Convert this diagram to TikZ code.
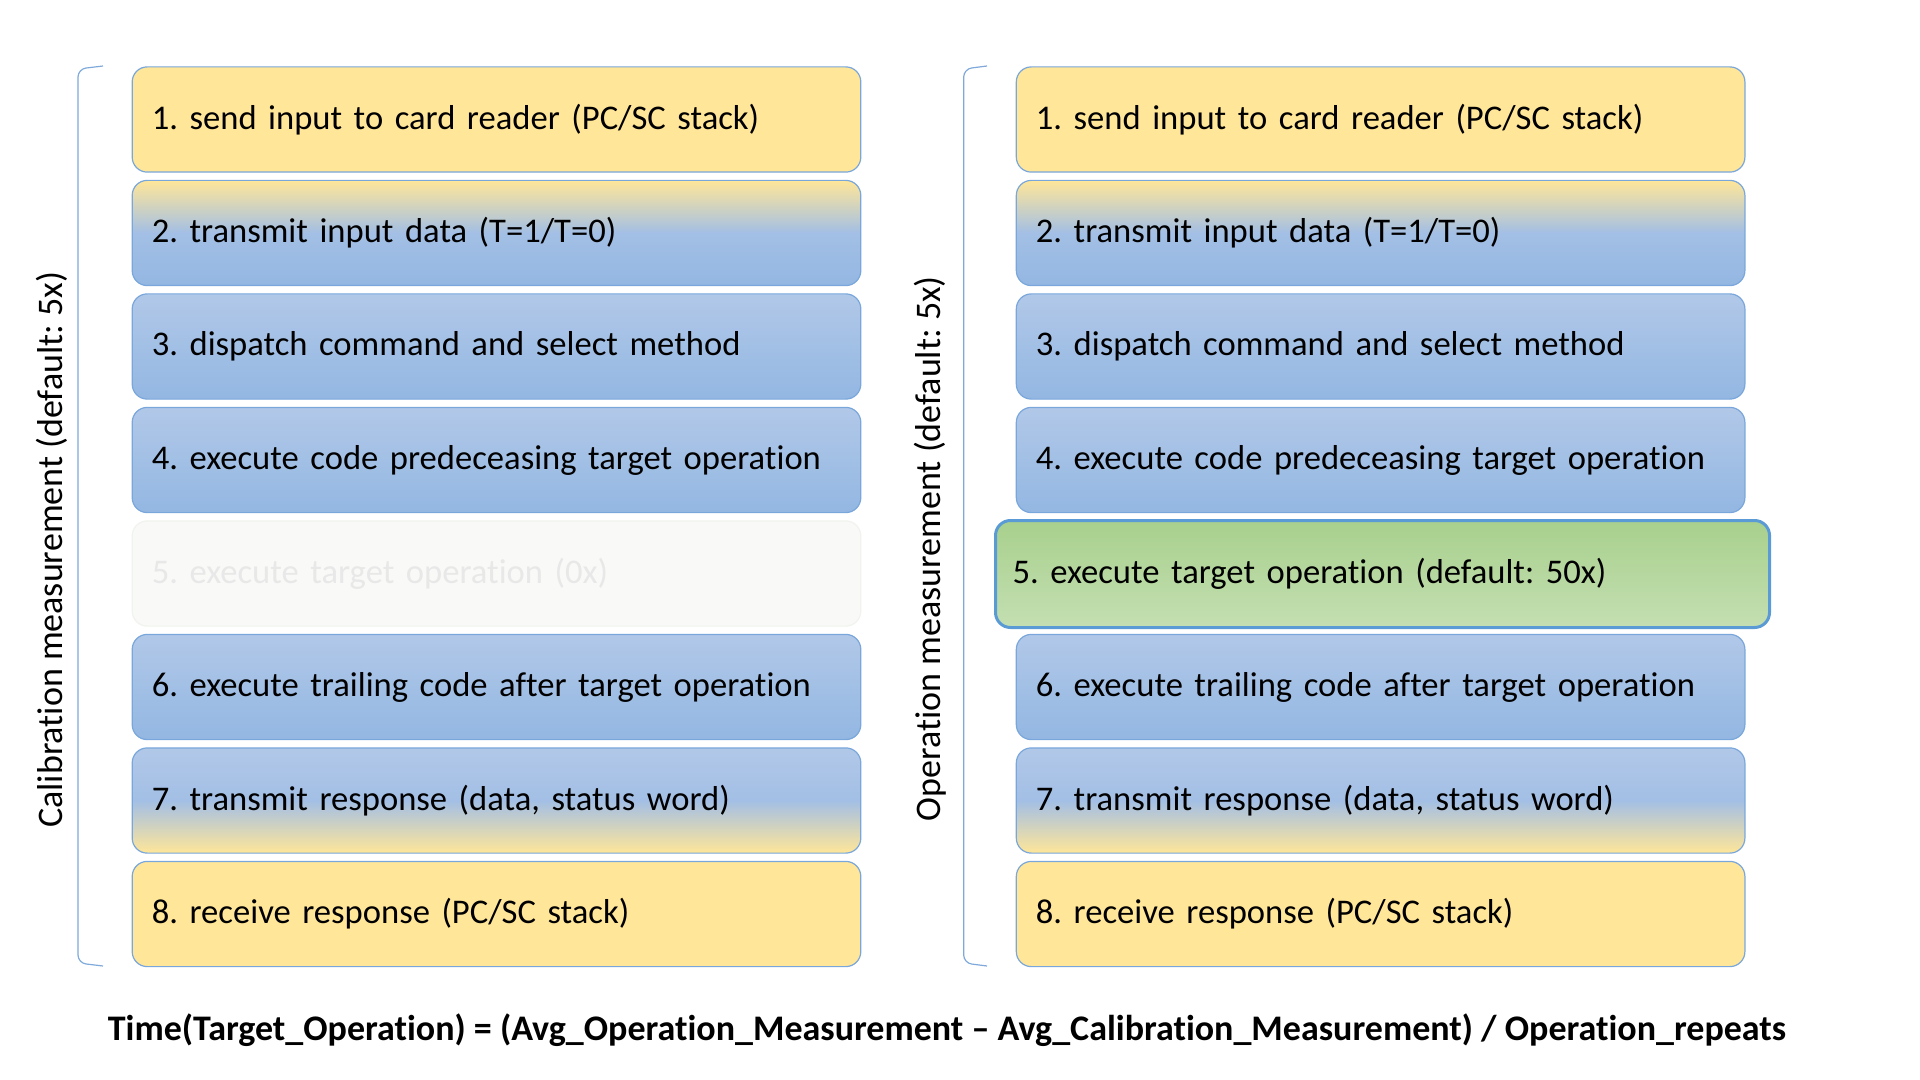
\documentclass[tikz,border=0pt]{standalone}
\usepackage{fontspec}
\setmainfont{Carlito}[Ligatures={NoCommon}]
\usepackage{tikz}
\usetikzlibrary{positioning}
\frenchspacing

\definecolor{goldfill}{HTML}{FFE699}
\definecolor{bluetop}{HTML}{B1C8E8}
\definecolor{bluemid}{HTML}{A3BFE5}
\definecolor{bluebot}{HTML}{93B7E2}
\definecolor{boxline}{HTML}{7AA7DB}
\definecolor{greentop}{HTML}{A8D08D}
\definecolor{greenbot}{HTML}{C4DFB2}
\definecolor{greenline}{HTML}{5B9BD5}
\definecolor{ghostfill}{HTML}{F9FAF7}
\definecolor{ghostline}{HTML}{F0F3EE}
\definecolor{ghosttext}{HTML}{E8E8E8}
\definecolor{bracketline}{HTML}{7EA9DA}

\tikzset{
	stepbox/.style={draw=boxline,line width=0.6pt,rounded corners=7.5pt,
		minimum height=52.6pt,text width=344.7pt,inner xsep=9.8pt,
		align=left,font=\fontsize{17.3}{20}\selectfont},
	goldbox/.style={stepbox,fill=goldfill},
	bluebox/.style={stepbox,top color=bluetop,bottom color=bluebot},
	goldtoblue/.style={stepbox,top color=goldfill,bottom color=bluebot,middle color=bluemid},
	bluetogold/.style={stepbox,top color=bluetop,bottom color=goldfill,middle color=bluemid},
	ghostbox/.style={stepbox,draw=ghostline,fill=ghostfill,text=ghosttext},
	greenbox/.style={stepbox,draw=greenline,line width=1.5pt,top color=greentop,bottom color=greenbot,
		text width=370pt,minimum height=53.5pt,inner xsep=8.5pt},
	bracket/.style={draw=bracketline,line width=0.6pt,rounded corners=4pt},
	sidelabel/.style={rotate=90,font=\fontsize{18}{21}\selectfont}
}

\begin{document}
\begin{tikzpicture}[x=0.5pt,y=-0.5pt]
		\useasboundingbox (0,0) rectangle (1920,1080);
		
		% calibration run
		\node[goldbox] (l1) at (496.5,119.5) {1. send input to card reader (PC/SC stack)};
		\node[goldtoblue] (l2) at (496.5,233) {2. transmit input data (T=1/T=0)};
		\node[bluebox] (l3) at (496.5,346.5) {3. dispatch command and select method};
		\node[bluebox] (l4) at (496.5,460) {4. execute code predeceasing target operation};
		\node[ghostbox] (l5) at (496.5,573.5) {5. execute target operation (0x)};
		\node[bluebox] (l6) at (496.5,687) {6. execute trailing code after target operation};
		\node[bluetogold] (l7) at (496.5,800.5) {7. transmit response (data, status word)};
		\node[goldbox] (l8) at (496.5,914) {8. receive response (PC/SC stack)};
		
		% operation run
		\node[goldbox] (r1) at (1380.6,119.5) {1. send input to card reader (PC/SC stack)};
		\node[goldtoblue] (r2) at (1380.6,233) {2. transmit input data (T=1/T=0)};
		\node[bluebox] (r3) at (1380.6,346.5) {3. dispatch command and select method};
		\node[bluebox] (r4) at (1380.6,460) {4. execute code predeceasing target operation};
		\node[greenbox] (r5) at (1382.5,574) {5. execute target operation (default: 50x)};
		\node[bluebox] (r6) at (1380.6,687) {6. execute trailing code after target operation};
		\node[bluetogold] (r7) at (1380.6,800.5) {7. transmit response (data, status word)};
		\node[goldbox] (r8) at (1380.6,914) {8. receive response (PC/SC stack)};
		
		% brackets
		\path[bracket] (103,66) -- (78,69) -- (78,963) -- (103,966);
		\path[bracket] (987,66) -- (963.7,69) -- (963.7,963) -- (987,966);
		
		\node[sidelabel] (calib) at (51.4,549.8) {Calibration measurement (default: 5x)};
		\node[sidelabel] (oper) at (930.6,548.6) {Operation measurement (default: 5x)};
		
		\node[font=\fontsize{18}{21}\selectfont\bfseries] (formula) at (947,1030)
			{Time(Target\_Operation) = (Avg\_Operation\_Measurement -- Avg\_Calibration\_Measurement) / Operation\_repeats};
	\end{tikzpicture}
\end{document}
